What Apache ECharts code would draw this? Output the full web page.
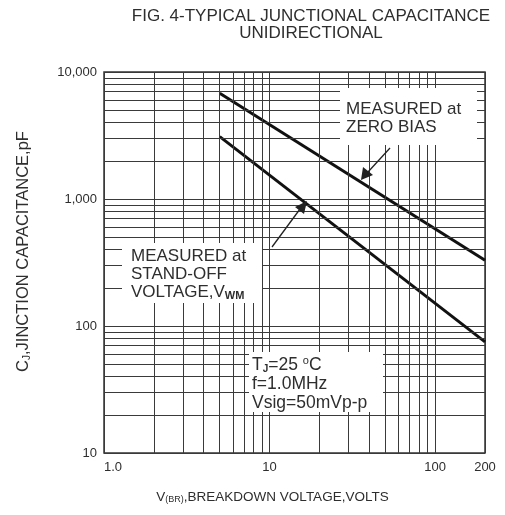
<!DOCTYPE html>
<html><head><meta charset="utf-8">
<script src="https://cdn.jsdelivr.net/npm/echarts@6/dist/echarts.min.js"></script>
<style>html,body{margin:0;padding:0;background:#fff}#c{width:505px;height:515px}</style>
</head><body><div id="c"></div>
<script>
// ---- data ----
const zeroBiasV = [5, 200];
const zeroBiasC = [6800, 330];
const standOffV = [5, 200];
const standOffC = [3100, 75];
const xTickValues = [1, 10, 100, 200];
const xTickLabels = ['1.0', '10', '100', '200'];
const yTickValues = [10, 100, 1000, 10000];
const yTickLabels = ['10', '100', '1,000', '10,000'];
const xMinorGrid = [2, 3, 4, 5, 6, 7, 8, 9, 20, 30, 40, 50, 60, 70, 80, 90];
const yMinorGrid = [20, 30, 40, 50, 60, 70, 80, 90, 200, 300, 400, 500, 600, 700, 800, 900,
                    2000, 3000, 4000, 5000, 6000, 7000, 8000, 9000];

const FONT = 'Liberation Sans, Arial, sans-serif';
const TXT = '#2e2e2e';
const GRIDC = '#3a3a3a';

function lbl(values, labels) {
  return v => {
    for (let i = 0; i < values.length; i++) {
      if (Math.abs(v - values[i]) / values[i] < 1e-6) return labels[i];
    }
    return '';
  };
}

const chart = echarts.init(document.getElementById('c'), null, {renderer: 'canvas'});
const option = {
  animation: false,
  backgroundColor: '#fff',
  title: {
    text: 'FIG. 4-TYPICAL JUNCTIONAL CAPACITANCE\nUNIDIRECTIONAL',
    left: 311, top: 8, padding: 0, textAlign: 'center',
    textStyle: {fontFamily: FONT, fontSize: 17, fontWeight: 'normal', color: TXT, lineHeight: 17}
  },
  grid: {left: 104, top: 72, width: 381, height: 381, show: true,
         borderColor: '#333', borderWidth: 1.5, backgroundColor: 'transparent'},
  xAxis: {
    type: 'log', logBase: 10, min: 1, max: 200,
    axisLine: {show: false}, axisTick: {show: false},
    splitLine: {show: true, lineStyle: {color: GRIDC, width: 1}},
    axisLabel: {formatter: lbl(xTickValues, xTickLabels), fontFamily: FONT, fontSize: 13,
                color: TXT, margin: 8, showMinLabel: true, showMaxLabel: true,
                alignMinLabel: 'left'},
    name: '{v|V}{s|(BR)}{v|,BREAKDOWN VOLTAGE,VOLTS}',
    nameLocation: 'middle', nameGap: 37,
    nameTextStyle: {padding: [0, 44, 0, 0],
      rich: {v: {fontFamily: FONT, fontSize: 13.5, color: TXT},
             s: {fontFamily: FONT, fontSize: 9, color: TXT, verticalAlign: 'bottom', padding: [4, 0, 0, 0]}}}
  },
  yAxis: {
    type: 'log', logBase: 10, min: 10, max: 10000,
    axisLine: {show: false}, axisTick: {show: false},
    splitLine: {show: true, lineStyle: {color: GRIDC, width: 1}},
    axisLabel: {formatter: lbl(yTickValues, yTickLabels), fontFamily: FONT, fontSize: 13,
                color: TXT, margin: 7},
    name: '{v|C}{s|J}{v|,JINCTION CAPACITANCE,pF}',
    nameLocation: 'middle', nameGap: 72,
    nameTextStyle: {padding: [0, 0, 0, 22],
      rich: {v: {fontFamily: FONT, fontSize: 16.5, color: TXT},
             s: {fontFamily: FONT, fontSize: 10, color: TXT, verticalAlign: 'bottom'}}}
  },
  series: [
    {
      type: 'line', data: [], silent: true, z: 1,
      markLine: {
        silent: true, symbol: ['none', 'none'], label: {show: false},
        lineStyle: {type: 'solid', color: GRIDC, width: 1},
        emphasis: {disabled: true},
        data: xMinorGrid.map(v => ({xAxis: v})).concat(yMinorGrid.map(v => ({yAxis: v})))
      }
    },
    {
      name: 'MEASURED at ZERO BIAS', type: 'line', z: 3, showSymbol: false,
      lineStyle: {color: '#111', width: 3},
      data: zeroBiasV.map((v, i) => [v, zeroBiasC[i]])
    },
    {
      name: 'MEASURED at STAND-OFF VOLTAGE', type: 'line', z: 3, showSymbol: false,
      lineStyle: {color: '#111', width: 3},
      data: standOffV.map((v, i) => [v, standOffC[i]])
    }
  ],
  graphic: [
    // white label boxes
    {type: 'rect', z: 50, shape: {x: 340, y: 88, width: 137, height: 57}, style: {fill: '#fff'}},
    {type: 'rect', z: 50, shape: {x: 122, y: 243, width: 140, height: 60}, style: {fill: '#fff'}},
    {type: 'rect', z: 50, shape: {x: 249, y: 352, width: 134, height: 60}, style: {fill: '#fff'}},
    {type: 'text', z: 60, x: 346, y: 118, style: {
      text: 'MEASURED at\nZERO BIAS', font: '17px ' + FONT, fill: TXT, lineHeight: 18,
      verticalAlign: 'middle'}},
    {type: 'text', z: 60, x: 131, y: 274, style: {
      text: '{v|MEASURED at}\n{v|STAND-OFF}\n{v|VOLTAGE,V}{s|WM}', fill: TXT, verticalAlign: 'middle',
      rich: {v: {fontFamily: FONT, fontSize: 17, fill: TXT, lineHeight: 18},
             s: {fontFamily: FONT, fontSize: 11, fontWeight: 'bold', fill: TXT, lineHeight: 18, verticalAlign: 'bottom'}}}},
    {type: 'text', z: 60, x: 252, y: 384, style: {
      text: '{v|T}{s|J}{v|=25 }{u|o}{v|C}\n{v|f=1.0MHz}\n{v|Vsig=50mVp-p}', fill: TXT, verticalAlign: 'middle',
      rich: {v: {fontFamily: FONT, fontSize: 17.5, fill: TXT, lineHeight: 19},
             s: {fontFamily: FONT, fontSize: 10, fontWeight: 'bold', fill: TXT, lineHeight: 19, verticalAlign: 'bottom'},
             u: {fontFamily: FONT, fontSize: 11, fill: TXT, lineHeight: 19, verticalAlign: 'top'}}}},
    // arrows
    {type: 'line', z: 60, shape: {x1: 390, y1: 148, x2: 368, y2: 172}, style: {stroke: '#222', lineWidth: 1.3}},
    {type: 'polygon', z: 60, shape: {points: [[361, 180], [363, 167], [373, 175]]}, style: {fill: '#222'}},
    {type: 'line', z: 60, shape: {x1: 272, y1: 247, x2: 300, y2: 209}, style: {stroke: '#222', lineWidth: 1.3}},
    {type: 'polygon', z: 60, shape: {points: [[307, 201], [304, 214], [295, 207]]}, style: {fill: '#222'}}
  ]
};
chart.setOption(option);
</script>
</body></html>
